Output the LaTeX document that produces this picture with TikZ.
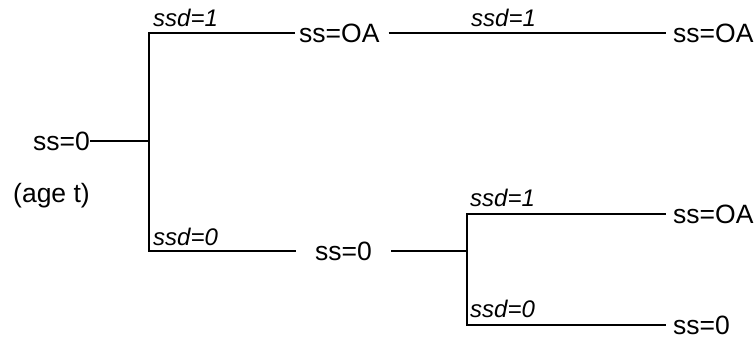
\documentclass[tikz,border=0pt]{standalone}
\usepackage{fontspec}
\setmainfont{Liberation Sans}
\tikzset{
  tree/.style={line width=2.2pt},
  state/.style={font=\fontsize{26.5}{31}\selectfont, inner sep=0pt, anchor=west},
  ssdlbl/.style={font=\fontsize{24}{29}\selectfont\itshape, inner sep=0pt, anchor=base west}
}
\begin{document}
\begin{tikzpicture}[x=1pt, y=-1pt]
  \useasboundingbox (0,0) rectangle (755,339);

  % states
  \node[state] (root) at (33,141) {ss=0};
  \node[state] (age) at (13,196) {(age t)};
  \node[state] (up) at (299,33) {ss=OA};
  \node[state] (upr) at (673,33) {ss=OA};
  \node[state] (low) at (315,251) {ss=0};
  \node[state] (lowu) at (673,214) {ss=OA};
  \node[state] (lowd) at (673,325) {ss=0};

  % branch points
  \coordinate (b1) at (root.east -| 149,0);
  \coordinate (b2) at (low.east -| 467,0);

  % first split
  \draw[tree, shorten >=-1pt] (root.east) -- (b1);
  \draw[tree, shorten <=4pt] (up.west) -| (b1);
  \draw[tree, shorten >=19pt] (b1) |- (low.west);
  \draw[tree, shorten <=9pt, shorten >=7pt] (up.east) -- (upr.west);

  % second split
  \draw[tree, shorten <=19pt] (low.east) -- (b2);
  \draw[tree, shorten >=7pt] (b2) |- (lowu.west);
  \draw[tree, shorten >=7pt] (b2) |- (lowd.west);

  % labels
  \node[ssdlbl] (s1) at (153,27) {ssd=1};
  \node[ssdlbl] (s0) at (153,245) {ssd=0};
  \node[ssdlbl] (s11) at (471,27) {ssd=1};
  \node[ssdlbl] (s21) at (470,207) {ssd=1};
  \node[ssdlbl] (s20) at (470,317) {ssd=0};
\end{tikzpicture}
\end{document}
